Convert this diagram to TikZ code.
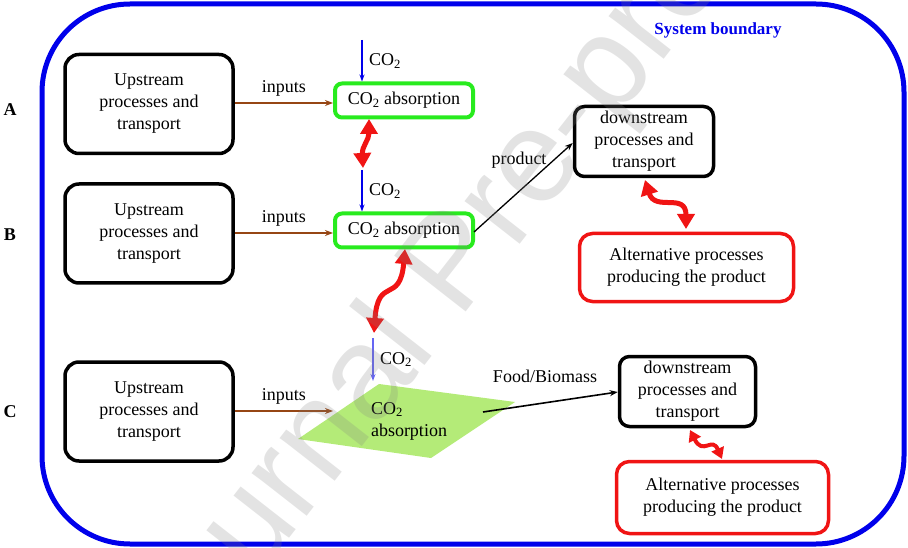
\documentclass[tikz,border=0pt]{standalone}
\usepackage{fontspec}
\setmainfont{Liberation Serif}
\newfontfamily\wmfont{Liberation Sans}
\usetikzlibrary{arrows.meta}
\definecolor{bnd}{RGB}{0,0,235}
\definecolor{grn}{RGB}{40,235,30}
\definecolor{brn}{RGB}{150,70,20}
\definecolor{lgrn}{RGB}{180,235,120}
\definecolor{rd}{RGB}{240,20,20}
\begin{document}
\begin{tikzpicture}[x=1pt,y=-1pt,
  every node/.style={font=\fontsize{18}{22}\selectfont},
  upbox/.style={draw=black, line width=3.5pt, rounded corners=14pt, minimum width=168pt, minimum height=99pt, align=center, inner sep=0pt},
  greenbox/.style={draw=grn, line width=4pt, rounded corners=7pt, minimum width=138pt, minimum height=34pt, inner sep=0pt},
  downbox/.style={draw=black, line width=3.5pt, rounded corners=10pt, align=center, inner sep=0pt},
  altbox/.style={draw=rd, line width=3.5pt, rounded corners=13pt, align=center, inner sep=0pt},
  inarrow/.style={draw=brn, line width=1.8pt, -{Stealth[length=8pt,width=6pt]}},
  co2arrow/.style={draw=bnd, line width=1.6pt, -{Stealth[length=7pt,width=5pt]}},
  prodarrow/.style={draw=black, line width=1.6pt, -{Stealth[length=8pt,width=6pt]}},
  redarrow/.style={draw=rd, line width=5pt, {Triangle[width=17pt,length=15pt]}-{Triangle[width=17pt,length=15pt]}},
  rowlabel/.style={font=\bfseries\fontsize{18}{22}\selectfont}
]
\useasboundingbox (0,0) rectangle (908,548);
% system boundary
\draw[bnd, line width=5pt, rounded corners=88pt] (42,4) rectangle (904,544);
\node[text=bnd, font=\bfseries\fontsize{17}{20}\selectfont] (sb) at (718,30) {System boundary};

% row labels
\node[rowlabel] (lA) at (10,110) {A};
\node[rowlabel] (lB) at (10,235) {B};
\node[rowlabel] (lC) at (10,412) {C};

% upstream boxes
\node[upbox] (upA) at (149,104) {Upstream\\processes and\\transport};
\node[upbox] (upB) at (149,233.5) {Upstream\\processes and\\transport};
\node[upbox] (upC) at (149,411.5) {Upstream\\processes and\\transport};

% green boxes
\node[greenbox] (gA) at (404,100.5) {CO\textsubscript{2} absorption};
\node[greenbox] (gB) at (404,230.5) {CO\textsubscript{2} absorption};

% parallelogram C
\fill[lgrn] (298,439) -- (379,384) -- (515,402) -- (431,458) -- cycle;
\node[align=left, inner sep=0pt] (pC) at (409,421) {CO\textsubscript{2}\\absorption};

% inputs arrows
\draw[inarrow] (upA.east |- 0,103) -- (gA.west |- 0,103) node[midway, above=2pt, text=black] (inA) {inputs};
\draw[inarrow] (upB.east |- 0,233) -- (gB.west |- 0,233) node[midway, above=2pt, text=black] (inB) {inputs};
\coordinate (pCin) at (333,411);
\draw[inarrow] (upC.east |- pCin) -- (pCin) node[midway, above=2pt, text=black] (inC) {inputs};

% CO2 arrows
\coordinate (cA) at (362,40);
\coordinate (cB) at (362,170);
\coordinate (cC) at (373,338);
\coordinate (cCend) at (373,381);
\draw[co2arrow] (cA) -- (cA |- gA.north) node[midway, right=3pt, text=black] (tA) {CO\textsubscript{2}};
\draw[co2arrow] (cB) -- (cB |- gB.north) node[midway, right=3pt, text=black] (tB) {CO\textsubscript{2}};
\draw[co2arrow, draw=bnd!60] (cC) -- (cCend) node[midway, right=3pt, text=black] (tC) {CO\textsubscript{2}};

% downstream and alternative boxes
\node[downbox, minimum width=139pt, minimum height=70pt] (dA) at (644,141.5) {downstream\\processes and\\transport};
\node[altbox, minimum width=214pt, minimum height=68pt] (aA) at (686.5,267.5) {Alternative processes\\producing the product};
\node[downbox, minimum width=136pt, minimum height=70pt] (dC) at (687.5,391.5) {downstream\\processes and\\transport};
\node[altbox, minimum width=212pt, minimum height=72pt] (aC) at (722.5,497.5) {Alternative processes\\producing the product};

% product arrows
\coordinate (pBout) at (474,232);
\coordinate (dAin) at (dA.west |- 0,143);
\draw[prodarrow, line width=1.3pt] (pBout) -- (dAin);
\node (prod) at (519,160) {product};
\coordinate (food) at (483,412);
\draw[prodarrow] (food) -- (dC.west |- 0,392);
\node (fb) at (545,376) {Food/Biomass};

% red double arrows
\coordinate (r1a) at (369,119);
\coordinate (r1b) at (363,168);
\draw[redarrow] (r1a) .. controls (369,140) and (362,146) .. (r1b);
\coordinate (r2a) at (405,249);
\coordinate (r2b) at (374,333);
\draw[redarrow] (r2a) .. controls (400,305) and (378,275) .. (r2b);
\coordinate (r3a) at (645,180);
\coordinate (r3b) at (686,229);
\draw[redarrow] (r3a) .. controls (655,212) and (686,192) .. (r3b);
\coordinate (r4a) at (690,430);
\coordinate (r4b) at (722,459);
\draw[redarrow, line width=4pt, {Triangle[width=13pt,length=11pt]}-{Triangle[width=13pt,length=11pt]}] (r4a) .. controls (703,456) and (712,436) .. (r4b);

% watermark
\node[rotate=52, text=gray, text opacity=0.22, font=\wmfont\fontsize{132}{132}\selectfont] (wm) at (458,268) {Journal Pre-proof};
\end{tikzpicture}
\end{document}
